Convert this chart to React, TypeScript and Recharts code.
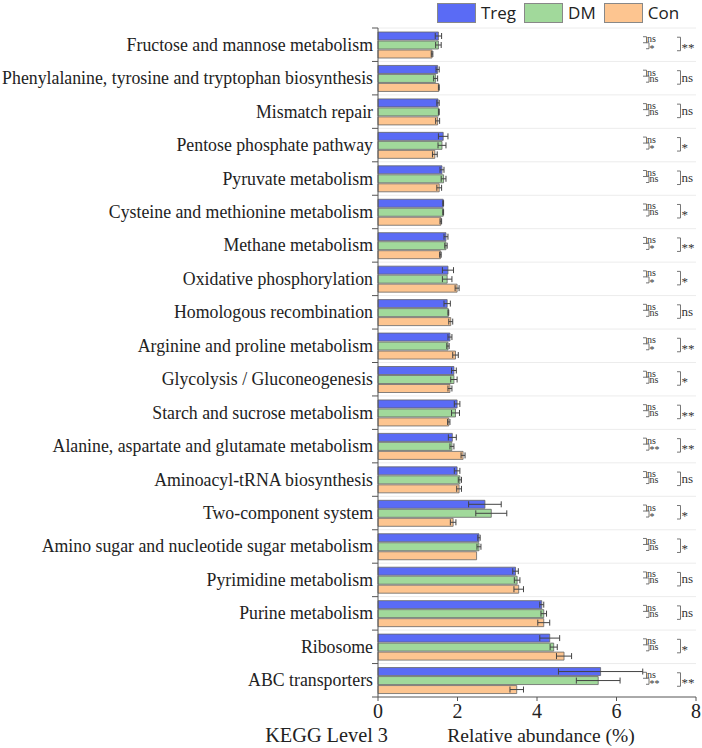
import React from "react";
import { BarChart, Bar, XAxis, YAxis, CartesianGrid, ErrorBar, Label } from "recharts";

// KEGG level 3 pathways, top to bottom
const pathways = [
  "Fructose and mannose metabolism",
  "Phenylalanine, tyrosine and tryptophan biosynthesis",
  "Mismatch repair",
  "Pentose phosphate pathway",
  "Pyruvate metabolism",
  "Cysteine and methionine metabolism",
  "Methane metabolism",
  "Oxidative phosphorylation",
  "Homologous recombination",
  "Arginine and proline metabolism",
  "Glycolysis / Gluconeogenesis",
  "Starch and sucrose metabolism",
  "Alanine, aspartate and glutamate metabolism",
  "Aminoacyl-tRNA biosynthesis",
  "Two-component system",
  "Amino sugar and nucleotide sugar metabolism",
  "Pyrimidine metabolism",
  "Purine metabolism",
  "Ribosome",
  "ABC transporters",
];

const tregMean = [1.52, 1.5, 1.51, 1.64, 1.61, 1.64, 1.71, 1.76, 1.74, 1.81, 1.91, 1.99, 1.87, 1.99, 2.69, 2.54, 3.46, 4.12, 4.32, 5.6];
const tregSd = [0.08, 0.04, 0.03, 0.12, 0.05, 0.01, 0.05, 0.14, 0.08, 0.05, 0.06, 0.07, 0.1, 0.07, 0.41, 0.03, 0.07, 0.05, 0.25, 1.06];
const dmMean = [1.52, 1.45, 1.53, 1.61, 1.65, 1.64, 1.71, 1.74, 1.77, 1.76, 1.91, 1.95, 1.86, 2.06, 2.85, 2.54, 3.5, 4.17, 4.42, 5.54];
const dmSd = [0.07, 0.05, 0.01, 0.1, 0.06, 0.01, 0.03, 0.12, 0.01, 0.03, 0.08, 0.1, 0.05, 0.04, 0.39, 0.05, 0.07, 0.07, 0.09, 0.55];
const conMean = [1.36, 1.53, 1.5, 1.43, 1.54, 1.58, 1.57, 1.99, 1.83, 1.95, 1.81, 1.78, 2.14, 2.04, 1.89, 2.48, 3.54, 4.17, 4.68, 3.49];
const conSd = [0.02, 0.01, 0.05, 0.06, 0.06, 0.02, 0.02, 0.05, 0.05, 0.07, 0.05, 0.03, 0.05, 0.06, 0.07, 0.0, 0.12, 0.15, 0.19, 0.17];

// pairwise significance labels
const tregVsDm = Array(20).fill("ns");
const dmVsCon = ["*", "ns", "ns", "*", "ns", "ns", "*", "*", "ns", "*", "ns", "ns", "**", "ns", "*", "ns", "ns", "ns", "ns", "**"];
const tregVsCon = ["**", "ns", "ns", "*", "ns", "*", "**", "*", "ns", "**", "*", "**", "**", "ns", "*", "*", "ns", "ns", "*", "**"];

const xTicks = [0, 2, 4, 6, 8];

const groups = [
  { key: "treg", name: "Treg", color: "#5A6BF5" },
  { key: "dm", name: "DM", color: "#A1D99B" },
  { key: "con", name: "Con", color: "#FDC590" },
];

const data = pathways.map((name, i) => ({
  name,
  treg: tregMean[i],
  tregErr: tregSd[i],
  dm: dmMean[i],
  dmErr: dmSd[i],
  con: conMean[i],
  conErr: conSd[i],
}));

const W = 702;
const H = 748;
const MARGIN = { top: 28, right: 6, bottom: 0, left: 0 };
const Y_AXIS_W = 378;
const X_AXIS_H = 51;
const PLOT_RIGHT = W - MARGIN.right;
const BAND = (H - MARGIN.top - X_AXIS_H - MARGIN.bottom) / pathways.length;

const SERIF = "'Liberation Serif', 'Times New Roman', serif";
const AXIS = "#555";

const Bracket = ({ x, y1, y2, w }: { x: number; y1: number; y2: number; w: number }) => (
  <path d={`M${x},${y1}H${x + w}V${y2}H${x}`} fill="none" stroke="#666" strokeWidth={0.9} />
);

// asterisks sit high in the glyph box, so push them down a little
const sigY = (s: string, base: number) => (s === "ns" ? base : base + 3.5);

const PathwayTick = (props: any) => {
  const { x, y, payload } = props;
  const i = pathways.indexOf(payload.value);
  const axisX = x + 5;
  const ax = PLOT_RIGHT - 53;
  const bx = PLOT_RIGHT - 19;
  return (
    <g>
      <text x={x} y={y} textAnchor="end" dominantBaseline="central" fontFamily={SERIF} fontSize={17.8} fill="#222">
        {payload.value}
      </text>
      <line x1={axisX - 6} x2={axisX} y1={y - BAND / 2} y2={y - BAND / 2} stroke={AXIS} />
      {i === pathways.length - 1 && (
        <line x1={axisX - 6} x2={axisX} y1={y + BAND / 2} y2={y + BAND / 2} stroke={AXIS} />
      )}
      <Bracket x={ax} y1={y - 8} y2={y - 2} w={3.5} />
      <text x={ax + 4} y={sigY(tregVsDm[i], y - 2.5)} fontFamily={SERIF} fontSize={10} fill="#333">
        {tregVsDm[i]}
      </text>
      <Bracket x={ax + 3} y1={y - 2} y2={y + 4} w={3} />
      <text x={ax + 6.5} y={sigY(dmVsCon[i], y + 3.5)} fontFamily={SERIF} fontSize={10} fill="#333">
        {dmVsCon[i]}
      </text>
      <Bracket x={bx} y1={y - 7.5} y2={y + 6} w={3.5} />
      <text x={bx + 4.5} y={sigY(tregVsCon[i], y + 3.5)} fontFamily={SERIF} fontSize={13} fill="#333">
        {tregVsCon[i]}
      </text>
    </g>
  );
};

const GroupLegend = () => (
  <div style={{ position: "absolute", left: 437, top: 1, display: "flex", alignItems: "center", fontFamily: "'Open Sans', sans-serif", fontSize: 17, color: "#222" }}>
    {groups.map((g) => (
      <div key={g.key} style={{ display: "flex", alignItems: "center", marginRight: 8 }}>
        <span style={{ display: "inline-block", width: 37, height: 18, background: g.color, border: "1px solid #888", marginRight: 5 }} />
        <span>{g.name}</span>
      </div>
    ))}
  </div>
);

export default function App() {
  return (
    <div style={{ position: "absolute", left: 0, top: 0, width: W, height: H, background: "#fff" }}>
      <GroupLegend />
      <BarChart
        width={W}
        height={H}
        data={data}
        layout="vertical"
        margin={MARGIN}
        barSize={8}
        barGap={1}
      >
        <CartesianGrid
          vertical={false}
          stroke="#ececec"
          horizontalCoordinatesGenerator={({ offset }: any) =>
            pathways.map((_, i) => offset.top + (i * offset.height) / pathways.length)
          }
        />
        <XAxis
          type="number"
          domain={[0, 8]}
          ticks={xTicks}
          height={X_AXIS_H}
          tickSize={4}
          tickMargin={3}
          stroke={AXIS}
          tick={{ fontFamily: SERIF, fontSize: 20, fill: "#222" }}
        >
          <Label
            content={({ viewBox }: any) => (
              <g fontFamily={SERIF} fill="#222">
                <text x={viewBox.x + 10} y={742} textAnchor="end" fontSize={20.3}>KEGG Level 3</text>
                <text x={viewBox.x + viewBox.width / 2 + 4} y={742} textAnchor="middle" fontSize={19.5}>Relative abundance (%)</text>
              </g>
            )}
          />
        </XAxis>
        <XAxis xAxisId="top" orientation="top" type="number" domain={[0, 8]} height={0} tick={false} tickLine={false} stroke={AXIS} />
        <YAxis
          type="category"
          dataKey="name"
          width={Y_AXIS_W}
          tickLine={false}
          tickSize={0}
          tickMargin={5}
          stroke={AXIS}
          interval={0}
          tick={<PathwayTick />}
        />
        <YAxis yAxisId="right" orientation="right" type="category" dataKey="name" width={0} tick={false} tickLine={false} stroke={AXIS} />
        {groups.map((g) => (
          <Bar key={g.key} dataKey={g.key} name={g.name} fill={g.color} stroke="#666" strokeWidth={0.8} isAnimationActive={false}>
            <ErrorBar dataKey={`${g.key}Err`} direction="x" width={3} stroke="#444" strokeWidth={1} isAnimationActive={false} />
          </Bar>
        ))}
      </BarChart>
    </div>
  );
}
